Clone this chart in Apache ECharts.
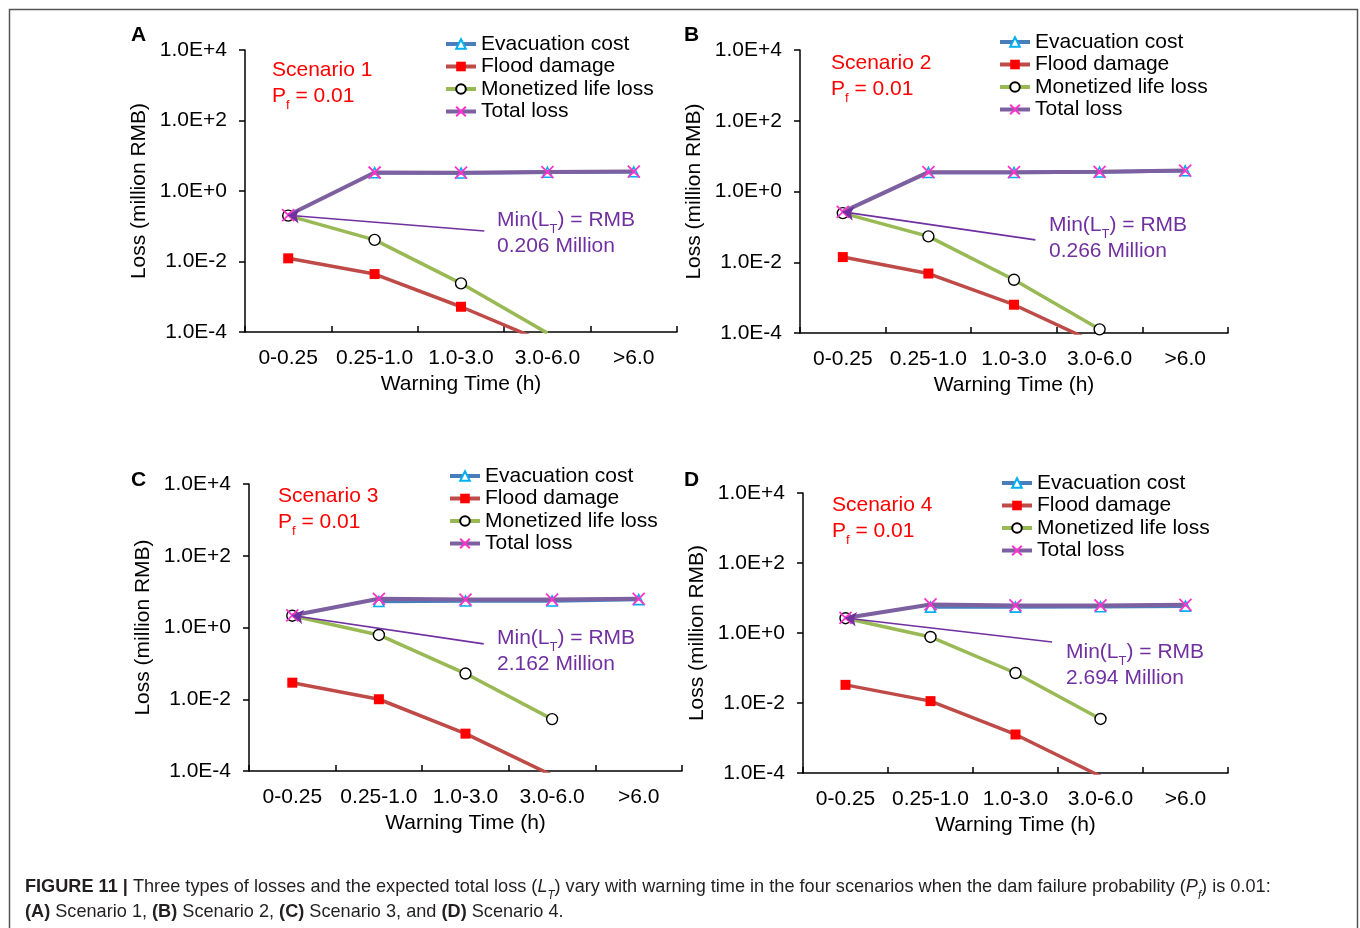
<!DOCTYPE html>
<html lang="en">
<head>
<meta charset="utf-8">
<title>Figure 11 - losses vs warning time</title>
<style>html,body{margin:0;padding:0;background:#fff}#main{width:1360px;height:928px}</style>
</head>
<body>
<div id="main"></div>
<script src="https://cdn.jsdelivr.net/npm/echarts@6/dist/echarts.min.js"></script>
<script>
// categories (warning time bins)
var categories = ['0-0.25', '0.25-1.0', '1.0-3.0', '3.0-6.0', '>6.0'];
var seriesNames = ['Evacuation cost', 'Flood damage', 'Monetized life loss', 'Total loss'];

// Scenario 1 (A)
var evacA  = [null, 3.3, 3.25, 3.4, 3.5];
var floodA = [0.0123, 0.0044, 0.00052, 0.000048, null];
var lifeA  = [0.2, 0.041, 0.0024, 0.000093, null];
var totalA = [0.206, 3.35, 3.3, 3.45, 3.57];
// Scenario 2 (B)
var evacB  = [null, 3.45, 3.45, 3.55, 3.85];
var floodB = [0.014, 0.0048, 0.00063, 0.000047, null];
var lifeB  = [0.245, 0.054, 0.0032, 0.000127, null];
var totalB = [0.266, 3.52, 3.52, 3.6, 3.92];
// Scenario 3 (C)
var evacC  = [null, 5.3, 5.5, 5.5, 6.0];
var floodC = [0.029, 0.01, 0.0011, 0.000076, null];
var lifeC  = [2.13, 0.62, 0.052, 0.0028, null];
var totalC = [2.162, 6.3, 6.0, 6.0, 6.3];
// Scenario 4 (D)
var evacD  = [null, 5.5, 5.5, 5.6, 5.85];
var floodD = [0.033, 0.0113, 0.00126, 0.000081, null];
var lifeD  = [2.65, 0.77, 0.072, 0.0035, null];
var totalD = [2.694, 6.56, 6.15, 6.15, 6.4];

// min(L_T) labels and arrow tails (x = category position, y = loss)
var minLT = ['0.206', '0.266', '2.162', '2.694'];
var arrowTails = [[2.27, 0.073], [2.25, 0.043], [2.21, 0.35], [2.43, 0.553]];
var panelLetters = ['A', 'B', 'C', 'D'];
var scenarioNames = ['Scenario 1', 'Scenario 2', 'Scenario 3', 'Scenario 4'];

var panelData = [
    [evacA, floodA, lifeA, totalA],
    [evacB, floodB, lifeB, totalB],
    [evacC, floodC, lifeC, totalC],
    [evacD, floodD, lifeD, totalD]
];

var FONT = '"Liberation Sans", Arial, sans-serif';
var PURPLE = '#7030A0';

// panel placement
var layout = [
    {grid: {left: 245, top: 50, width: 432, height: 282}, letter: [131, 25], legend: [444, 33], scen: [272, 60], note: [497, 210]},
    {grid: {left: 800, top: 50, width: 428, height: 283}, letter: [684, 25], legend: [998, 31], scen: [831, 53], note: [1049, 215]},
    {grid: {left: 249, top: 484, width: 433, height: 287}, letter: [131, 470], legend: [448, 465], scen: [278, 486], note: [497, 628]},
    {grid: {left: 803, top: 493, width: 425, height: 280}, letter: [684, 470], legend: [1000, 472], scen: [832, 495], note: [1066, 642]}
];

var styles = [
    {symbol: 'triangle', size: 10, line: '#4A7EBB', width: 3.5, item: {color: '#fff', borderColor: '#00B0F0', borderWidth: 1.6}},
    {symbol: 'rect', size: 10, line: '#BE4B48', width: 3.5, item: {color: '#FF0000', borderColor: '#FF0000', borderWidth: 0}},
    {symbol: 'circle', size: 11, line: '#98B954', width: 3.5, item: {color: '#fff', borderColor: '#000', borderWidth: 1.4}},
    {symbol: 'path://M0,0L10,10M10,0L0,10', size: 12, line: '#7D60A0', width: 4, item: {color: 'rgba(0,0,0,0)', borderColor: '#FF33CC', borderWidth: 1.8}}
];

function fmtExp(v) {
    return Number(v).toExponential(1).toUpperCase();
}

var grid = [], xAxis = [], yAxis = [], series = [], legend = [], graphic = [];

panelData.forEach(function (sets, i) {
    var L = layout[i];
    grid.push(L.grid);
    xAxis.push({
        type: 'category', gridIndex: i, data: categories, boundaryGap: true,
        axisLine: {show: true, onZero: false, lineStyle: {color: '#000', width: 1.5}},
        axisTick: {show: true, inside: true, length: 6, lineStyle: {color: '#000', width: 1.5}},
        axisLabel: {color: '#000', fontSize: 21, fontFamily: FONT, margin: 16, interval: 0},
        splitLine: {show: false},
        name: 'Warning Time (h)', nameLocation: 'middle', nameGap: 42,
        nameTextStyle: {color: '#000', fontSize: 21, fontFamily: FONT}
    });
    xAxis.push({type: 'value', gridIndex: i, min: -0.5, max: 4.5, show: false});
    yAxis.push({
        type: 'log', logBase: 100, gridIndex: i, min: 1e-4, max: 1e4,
        axisLine: {show: true, onZero: false, lineStyle: {color: '#000', width: 1.5}},
        axisTick: {show: true, length: 6, lineStyle: {color: '#000', width: 1.5}},
        minorTick: {show: false},
        splitLine: {show: false},
        axisLabel: {color: '#000', fontSize: 21, fontFamily: FONT, margin: 18, formatter: fmtExp},
        name: 'Loss (million RMB)', nameLocation: 'middle', nameGap: 95, nameRotate: 90,
        nameTextStyle: {color: '#000', fontSize: 21, fontFamily: FONT}
    });

    sets.forEach(function (vals, k) {
        var s = styles[k];
        series.push({
            name: seriesNames[k], type: 'line', xAxisIndex: 2 * i, yAxisIndex: i,
            data: vals, symbol: s.symbol, symbolSize: s.size, showAllSymbol: true,
            lineStyle: {color: s.line, width: s.width},
            itemStyle: s.item, clip: true, connectNulls: false,
            emphasis: {disabled: true}, z: 2 + k
        });
    });

    // arrow pointing at min total loss
    series.push({
        type: 'lines', coordinateSystem: 'cartesian2d', xAxisIndex: 2 * i + 1, yAxisIndex: i,
        symbol: ['none', 'arrow'], symbolSize: [0, 11],
        lineStyle: {color: PURPLE, width: 1.6, opacity: 1, curveness: 0},
        data: [{coords: [arrowTails[i], [0, sets[3][0]]]}],
        silent: true, z: 10
    });

    legend.push({
        left: L.legend[0], top: L.legend[1], orient: 'vertical', padding: 0,
        itemWidth: 30, itemHeight: 12, itemGap: 0.5, selectedMode: false,
        lineStyle: {width: 4},
        textStyle: {color: '#000', fontSize: 21, lineHeight: 22, fontFamily: FONT},
        data: seriesNames
    });

    graphic.push({
        type: 'text', left: L.letter[0], top: L.letter[1],
        style: {text: panelLetters[i], font: 'bold 21px ' + FONT, fill: '#000'}
    });
    graphic.push({
        type: 'text', left: L.scen[0], top: L.scen[1],
        style: {
            text: '{m|' + scenarioNames[i] + '}\n{m|P}{s|f}{m| = 0.01}',
            rich: {
                m: {fontSize: 21, lineHeight: 26, verticalAlign: 'top', fill: '#FF0000', fontFamily: FONT},
                s: {fontSize: 13, lineHeight: 13, verticalAlign: 'bottom', fill: '#FF0000', fontFamily: FONT}
            }
        }
    });
    graphic.push({
        type: 'text', left: L.note[0], top: L.note[1],
        style: {
            text: '{m|Min(L}{s|T}{m|) = RMB}\n{m|' + minLT[i] + ' Million}',
            rich: {
                m: {fontSize: 21, lineHeight: 26, verticalAlign: 'top', fill: PURPLE, fontFamily: FONT},
                s: {fontSize: 13, lineHeight: 13, verticalAlign: 'bottom', fill: PURPLE, fontFamily: FONT}
            }
        }
    });
});

// figure frame
graphic.push({
    type: 'rect', left: 7, top: 7, silent: true,
    shape: {width: 1348, height: 940},
    style: {fill: 'none', stroke: '#555', lineWidth: 1.5}
});

// caption
graphic.push({
    type: 'text', x: 25, y: 877, scaleX: 0.955,
    style: {
        text: '{b|FIGURE 11 | }{n|Three types of losses and the expected total loss (}{i|L}{si|T}{n|) vary with warning time in the four scenarios when the dam failure probability (}{i|P}{si|f}{n|) is 0.01:}\n' +
              '{b|(A)}{n| Scenario 1, }{b|(B)}{n| Scenario 2, }{b|(C)}{n| Scenario 3, and }{b|(D)}{n| Scenario 4.}',
        rich: {
            b: {fontSize: 19, fontWeight: 'bold', lineHeight: 25, verticalAlign: 'top', fill: '#231F20', fontFamily: FONT},
            n: {fontSize: 19, lineHeight: 25, verticalAlign: 'top', fill: '#231F20', fontFamily: FONT},
            i: {fontSize: 19, fontStyle: 'italic', lineHeight: 25, verticalAlign: 'top', fill: '#231F20', fontFamily: FONT},
            si: {fontSize: 12, fontStyle: 'italic', lineHeight: 12, verticalAlign: 'bottom', fill: '#231F20', fontFamily: FONT}
        }
    }
});

var chart = echarts.init(document.getElementById('main'));
chart.setOption({
    backgroundColor: '#fff',
    animation: false,
    grid: grid,
    xAxis: xAxis,
    yAxis: yAxis,
    legend: legend,
    series: series,
    graphic: graphic
});
</script>
</body>
</html>
